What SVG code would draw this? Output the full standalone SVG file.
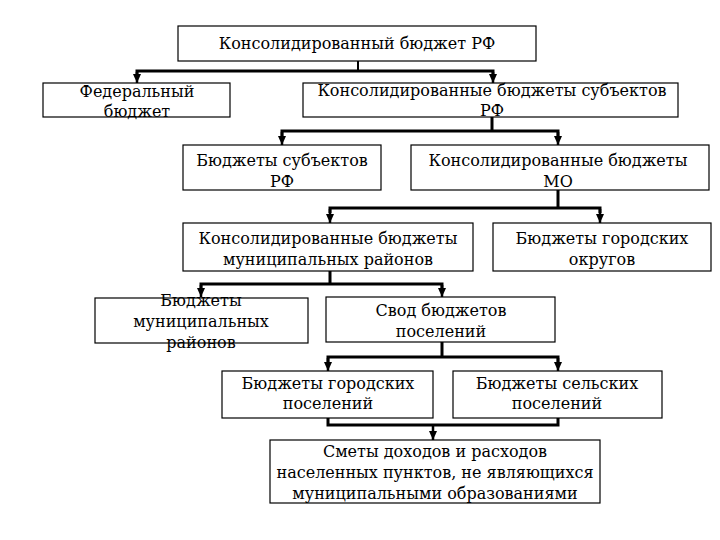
<svg xmlns="http://www.w3.org/2000/svg" width="720" height="540" viewBox="0 0 720 540">
<defs>
<marker id="ah" markerUnits="userSpaceOnUse" markerWidth="9" markerHeight="8" viewBox="0 0 9 8" refX="9" refY="4" orient="auto">
<path d="M0,0 L9,4 L0,8 Z" fill="#000"/>
</marker>
<style>
.box{fill:#fff;stroke:#000;stroke-width:1.2}
.t{font-family:"DejaVu Serif","Liberation Serif",serif;font-size:16px;fill:#000;text-anchor:middle}
.c{fill:none;stroke:#000;stroke-width:3}
.a{fill:none;stroke:#000;stroke-width:2.5}
</style>
</defs>
<rect width="720" height="540" fill="#fff"/>
<g id="connectors">
<line x1="358" y1="61" x2="358" y2="71" style="fill:none;stroke:#000;stroke-width:2"/>
<polyline class="c" points="137,76 137,71 493,71 493,76"/>
<line class="a" x1="137" y1="72" x2="137" y2="83" marker-end="url(#ah)"/>
<line class="a" x1="493" y1="72" x2="493" y2="83" marker-end="url(#ah)"/>
<polyline class="c" points="492,117 492,131"/>
<polyline class="c" points="282,136 282,131 558,131 558,136"/>
<line class="a" x1="282" y1="132" x2="282" y2="145" marker-end="url(#ah)"/>
<line class="a" x1="558" y1="132" x2="558" y2="145" marker-end="url(#ah)"/>
<polyline class="c" points="558,190 558,208"/>
<polyline class="c" points="330,213 330,208 600,208 600,213"/>
<line class="a" x1="330" y1="209" x2="330" y2="223" marker-end="url(#ah)"/>
<line class="a" x1="600" y1="209" x2="600" y2="223" marker-end="url(#ah)"/>
<polyline class="c" points="330,271 330,284"/>
<polyline class="c" points="201,289 201,284 442,284 442,289"/>
<line class="a" x1="201" y1="285" x2="201" y2="297" marker-end="url(#ah)"/>
<line class="a" x1="442" y1="285" x2="442" y2="297" marker-end="url(#ah)"/>
<polyline class="c" points="442,342 442,357"/>
<polyline class="c" points="328,362 328,357 558,357 558,362"/>
<line class="a" x1="328" y1="358" x2="328" y2="371" marker-end="url(#ah)"/>
<line class="a" x1="558" y1="358" x2="558" y2="371" marker-end="url(#ah)"/>
<polyline class="c" points="328,418 328,425 558,425 558,418"/>
<line class="a" x1="433" y1="426" x2="433" y2="440" marker-end="url(#ah)"/>
</g>
<g id="n1"><rect class="box" x="178" y="26" width="358" height="35"/><text class="t" x="357" y="49">Консолидированный бюджет РФ</text></g>
<g id="n2"><rect class="box" x="43" y="83" width="187" height="34"/><text class="t" x="137" y="97">Федеральный</text><text class="t" x="137" y="117">бюджет</text></g>
<g id="n3"><rect class="box" x="303" y="83" width="375" height="34"/><text class="t" x="492" y="96">Консолидированные бюджеты субъектов</text><text class="t" x="492" y="116">РФ</text></g>
<g id="n4"><rect class="box" x="183" y="145" width="198" height="45"/><text class="t" x="282" y="166">Бюджеты субъектов</text><text class="t" x="282" y="187">РФ</text></g>
<g id="n5"><rect class="box" x="411" y="145" width="298" height="45"/><text class="t" x="558" y="166">Консолидированные бюджеты</text><text class="t" x="558" y="187">МО</text></g>
<g id="n6"><rect class="box" x="183" y="223" width="290" height="48"/><text class="t" x="328" y="244">Консолидированные бюджеты</text><text class="t" x="328" y="265">муниципальных районов</text></g>
<g id="n7"><rect class="box" x="493" y="223" width="218" height="48"/><text class="t" x="602" y="244">Бюджеты городских</text><text class="t" x="602" y="265">округов</text></g>
<g id="n8"><rect class="box" x="95" y="298" width="213" height="45"/><text class="t" x="201" y="306">Бюджеты</text><text class="t" x="201" y="327">муниципальных</text><text class="t" x="201" y="348">районов</text></g>
<g id="n9"><rect class="box" x="326" y="297" width="229" height="45"/><text class="t" x="441" y="316">Свод бюджетов</text><text class="t" x="441" y="337">поселений</text></g>
<g id="n10"><rect class="box" x="222" y="371" width="211" height="47"/><text class="t" x="328" y="389">Бюджеты городских</text><text class="t" x="328" y="409">поселений</text></g>
<g id="n11"><rect class="box" x="453" y="371" width="209" height="47"/><text class="t" x="557" y="389">Бюджеты сельских</text><text class="t" x="557" y="409">поселений</text></g>
<g id="n12"><rect class="box" x="270" y="440" width="330" height="63"/><text class="t" x="435" y="457">Сметы доходов и расходов</text><text class="t" x="435" y="478">населенных пунктов, не являющихся</text><text class="t" x="435" y="499">муниципальными образованиями</text></g>
</svg>
